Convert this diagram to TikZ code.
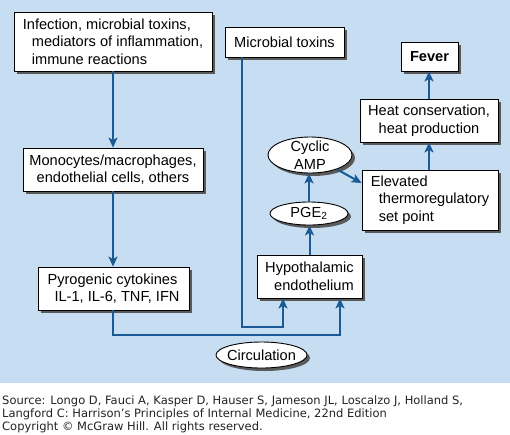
\documentclass[tikz,border=0pt]{standalone}
\usepackage{fontspec}
\setmainfont{Liberation Sans}
\newfontfamily\srcfont{DejaVu Sans}
\usetikzlibrary{arrows.meta,shapes.geometric,shadows}
\definecolor{bgblue}{HTML}{C6DDF2}
\definecolor{lineblue}{HTML}{1B5A94}
\definecolor{shadowgray}{HTML}{5A5A5A}
\definecolor{srcgray}{HTML}{222222}
\begin{document}
\begin{tikzpicture}[x=1pt,y=-1pt,
  box/.style={draw=black, line width=0.9pt, fill=white, inner sep=0pt,
    font=\fontsize{14.6}{17.5}\selectfont,
    drop shadow={shadow xshift=3pt, shadow yshift=-3pt, fill=shadowgray, opacity=1}},
  ell/.style={box, ellipse, inner xsep=-6pt, inner ysep=-4pt},
  arr/.style={draw=lineblue, line width=2pt, -{Stealth[length=10pt,width=9pt,inset=2.5pt]}},
  ln/.style={draw=lineblue, line width=2pt}]
\useasboundingbox (0,0) rectangle (510,434);
\fill[bgblue] (0,0) rectangle (510,383);

% boxes
\node[box, minimum width=198pt, minimum height=59pt, align=left] (inf) at (113,41.5)
  {Infection, microbial toxins,\\\hspace*{9pt}mediators of inflammation,\\\hspace*{9pt}immune reactions};
\node[box, minimum width=119pt, minimum height=30pt] (mt) at (284.5,42) {Microbial toxins};
\node[box, minimum width=57pt, minimum height=29pt, font=\fontsize{14.6}{17.5}\selectfont\bfseries] (fev) at (429.5,56.5) {Fever};
\node[box, minimum width=138pt, minimum height=43pt, align=center] (heat) at (429,120.5)
  {Heat conservation,\\heat production};
\node[ell, minimum width=84pt, minimum height=36pt, align=center] (camp) at (310,155) {Cyclic\\AMP};
\node[box, minimum width=136pt, minimum height=60pt, align=left] (elev) at (430,200)
  {Elevated\\\hspace*{8pt}thermoregulatory\\\hspace*{8pt}set point};
\node[ell, minimum width=78pt, minimum height=23pt] (pge) at (309,213.5) {PGE\textsubscript{2}};
\node[box, minimum width=105pt, minimum height=43pt, align=left] (hyp) at (309.5,276.5)
  {Hypothalamic\\\hspace*{9pt}endothelium};
\node[ell, minimum width=91pt, minimum height=26pt] (circ) at (261.5,355) {Circulation};
\node[box, minimum width=180pt, minimum height=43pt, align=center] (mono) at (113,169.5)
  {Monocytes/macrophages,\\endothelial cells, others};
\node[box, minimum width=151pt, minimum height=43pt, align=left] (pyro) at (113.5,288.5)
  {Pyrogenic cytokines\\\hspace*{7pt}IL-1, IL-6, TNF, IFN};

% junction coordinates
\coordinate (jA) at (340,335);
\coordinate (jB) at (242,327);
\coordinate (jC) at (283,327);

% connectors
\draw[arr] (inf.south) -- (inf.south |- mono.north);
\draw[arr] (mono.south) -- (mono.south |- pyro.north);
\draw[arr] (mono.south |- pyro.south) |- (jA) -- (jA |- hyp.south);
\draw[arr] (jB |- mt.south) -- (jB) -- (jC) -- (jC |- hyp.south);
\draw[arr] (hyp.north) -- (hyp.north |- pge.south);
\draw[arr] (pge.north) -- (pge.north |- camp.south);
\draw[arr] (camp.-28) -- ([yshift=17pt]elev.west);
\draw[arr] (heat.south |- elev.north) -- (heat.south);
\draw[arr] (heat.north) -- (heat.north |- fev.south);

% source text
\node[anchor=north west, inner sep=0pt, align=left, text=srcgray,
  font=\srcfont\fontsize{11.5}{12.8}\selectfont] (src) at (2,396)
  {Source: Longo D, Fauci A, Kasper D, Hauser S, Jameson JL, Loscalzo J, Holland S,\\
   Langford C: Harrison’s Principles of Internal Medicine, 22nd Edition\\
   Copyright © McGraw Hill. All rights reserved.};
\end{tikzpicture}
\end{document}
